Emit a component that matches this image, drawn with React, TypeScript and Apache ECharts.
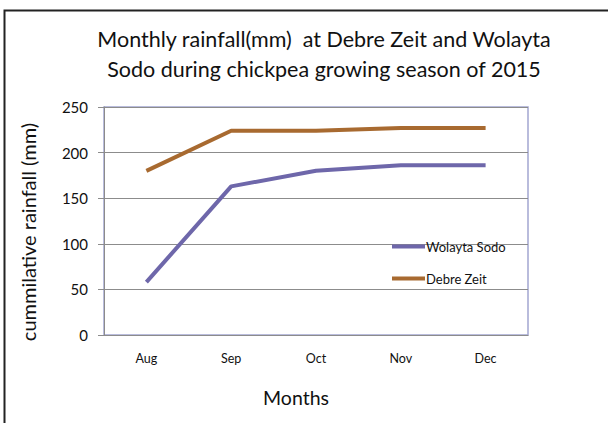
import React, { useEffect, useRef } from "react";
import * as echarts from "echarts";

const months = ["Aug", "Sep", "Oct", "Nov", "Dec"];
const wolaytaSodo = [58, 163, 180, 186, 186];
const debreZeit = [180, 224, 224, 227, 227];
const yTicks = { min: 0, max: 250, interval: 50 };
const titleLines = [
  "Monthly rainfall(mm)  at Debre Zeit and Wolayta",
  "Sodo during chickpea growing season of 2015",
];

const FONT = "Lato, Carlito, Calibri, 'Open Sans', sans-serif";

export default function App() {
  const ref = useRef<HTMLDivElement>(null);
  useEffect(() => {
    if (!ref.current) return;
    const chart = echarts.init(ref.current, undefined, { renderer: "svg" });
    chart.setOption({
      animation: false,
      backgroundColor: "#ffffff",
      textStyle: { fontFamily: FONT },
      legend: {
        orient: "vertical",
        left: 387,
        top: 235,
        itemWidth: 33,
        itemHeight: 4,
        itemGap: 19,
        icon: "rect",
        textStyle: { fontFamily: FONT, fontSize: 13, color: "#111", padding: [0, 0, 0, -4] },
        data: ["Wolayta Sodo", "Debre Zeit"],
      },
      grid: {
        left: 104,
        top: 107,
        width: 424,
        height: 228,
        show: true,
        borderColor: "#a3a6d1",
        borderWidth: 1.5,
        containLabel: false,
      },
      xAxis: {
        type: "category",
        data: months,
        boundaryGap: true,
        axisLine: { lineStyle: { color: "#8c8c8c", width: 1 } },
        axisTick: { show: false },
        axisLabel: { color: "#111", fontSize: 12.5, margin: 17, fontFamily: FONT },
      },
      yAxis: {
        type: "value",
        min: yTicks.min,
        max: yTicks.max,
        interval: yTicks.interval,
        axisLine: { show: true, lineStyle: { color: "#8c8c8c", width: 1 } },
        axisTick: { show: true, length: 6, lineStyle: { color: "#8c8c8c" } },
        axisLabel: { color: "#111", fontSize: 15, margin: 16, fontFamily: FONT },
        splitLine: { lineStyle: { color: "#8c8c8c", width: 1 } },
      },
      series: [
        {
          name: "Wolayta Sodo",
          type: "line",
          data: wolaytaSodo,
          symbol: "none",
          itemStyle: { color: "#6e67aa" },
          lineStyle: { color: "#6e67aa", width: 4 },
        },
        {
          name: "Debre Zeit",
          type: "line",
          data: debreZeit,
          symbol: "none",
          itemStyle: { color: "#a86a30" },
          lineStyle: { color: "#a86a30", width: 4 },
        },
      ],
      graphic: [
        {
          type: "rect",
          shape: { x: 4.5, y: 10.5, width: 620, height: 440 },
          style: { fill: "none", stroke: "#222", lineWidth: 2 },
          silent: true,
        },
        {
          type: "text",
          x: 324,
          y: 39,
          style: {
            text: titleLines[0],
            fontFamily: FONT,
            fontSize: 21.5,
            fill: "#111",
            align: "center",
            verticalAlign: "middle",
          },
        },
        {
          type: "text",
          x: 324,
          y: 69,
          style: {
            text: titleLines[1],
            fontFamily: FONT,
            fontSize: 21.5,
            fill: "#111",
            align: "center",
            verticalAlign: "middle",
          },
        },
        {
          type: "text",
          x: 28,
          y: 232,
          rotation: Math.PI / 2,
          style: {
            text: "cummilative rainfall (mm)",
            fontFamily: FONT,
            fontSize: 20,
            fill: "#111",
            align: "center",
            verticalAlign: "middle",
          },
        },
        {
          type: "text",
          x: 296,
          y: 397,
          style: {
            text: "Months",
            fontFamily: FONT,
            fontSize: 19.5,
            fill: "#111",
            align: "center",
            verticalAlign: "middle",
          },
        },
      ],
    });
    return () => chart.dispose();
  }, []);
  return (
    <div
      ref={ref}
      style={{ position: "absolute", left: 0, top: 0, width: 608, height: 423 }}
    />
  );
}
